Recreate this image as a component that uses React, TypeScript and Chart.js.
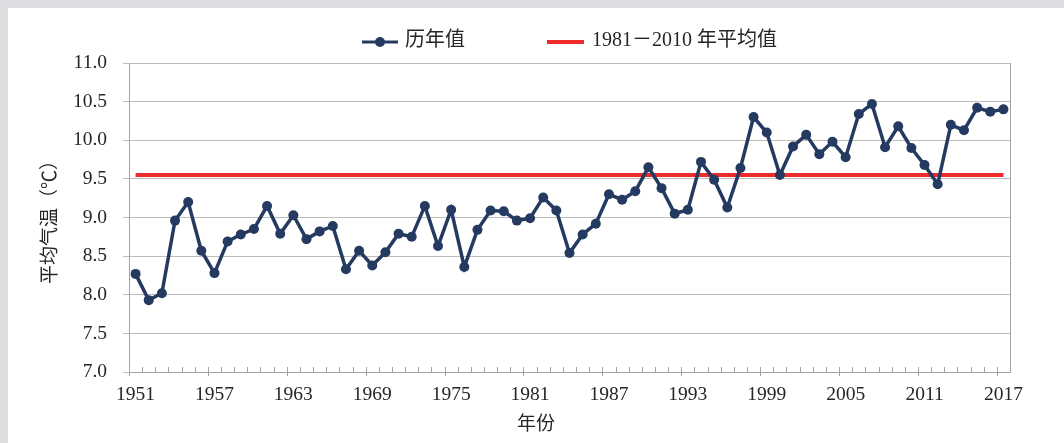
import { useEffect, useRef } from "react";
import { Chart, registerables } from "chart.js";

Chart.register(...registerables);

const years = [
  1951, 1952, 1953, 1954, 1955, 1956, 1957, 1958, 1959, 1960,
  1961, 1962, 1963, 1964, 1965, 1966, 1967, 1968, 1969, 1970,
  1971, 1972, 1973, 1974, 1975, 1976, 1977, 1978, 1979, 1980,
  1981, 1982, 1983, 1984, 1985, 1986, 1987, 1988, 1989, 1990,
  1991, 1992, 1993, 1994, 1995, 1996, 1997, 1998, 1999, 2000,
  2001, 2002, 2003, 2004, 2005, 2006, 2007, 2008, 2009, 2010,
  2011, 2012, 2013, 2014, 2015, 2016, 2017,
];

const annualTemps = [
  8.27, 7.93, 8.02, 8.96, 9.2, 8.57, 8.28, 8.69, 8.78, 8.85,
  9.15, 8.79, 9.03, 8.72, 8.82, 8.89, 8.33, 8.57, 8.38, 8.55,
  8.79, 8.75, 9.15, 8.63, 9.1, 8.36, 8.84, 9.09, 9.08, 8.96,
  8.99, 9.26, 9.09, 8.54, 8.78, 8.92, 9.3, 9.23, 9.34, 9.65,
  9.38, 9.05, 9.1, 9.72, 9.49, 9.13, 9.64, 10.3, 10.1, 9.55,
  9.92, 10.07, 9.82, 9.98, 9.78, 10.34, 10.47, 9.91, 10.18, 9.9,
  9.68, 9.43, 10.2, 10.13, 10.42, 10.37, 10.4,
];

const baselineValue = 9.55;

const seriesLabels = ["历年值", "1981－2010 年平均值"];
const yAxisTitle = "平均气温（℃）";
const xAxisTitle = "年份";
const yMin = 7;
const yMax = 11;
const yStep = 0.5;
const xLabelEvery = 6;

const FONT = '"Liberation Serif", "Times New Roman", "Noto Sans CJK SC", serif';
const NAVY = "#253a60";
const RED = "#ee2b2b";
const GRID = "#bdbdbd";
const AXIS = "#a3a3a3";
const TEXT = "#262626";
const PAGE_GRAY = "#dddee1";

const xTicksPlugin = {
  id: "xTicks",
  afterDraw(chart: any) {
    const { ctx, chartArea, scales } = chart;
    const x = scales.x;
    const n = x.ticks.length;
    ctx.save();
    ctx.strokeStyle = AXIS;
    ctx.lineWidth = 1;
    ctx.beginPath();
    for (let i = 0; i <= n; i++) {
      const px = Math.round(x.getPixelForValue(i - 0.5)) + 0.5;
      const major = i % xLabelEvery === 0;
      ctx.moveTo(px, chartArea.bottom - 5);
      ctx.lineTo(px, chartArea.bottom + (major ? 4 : 0));
    }
    ctx.stroke();
    ctx.restore();
  },
};

const legendPlugin = {
  id: "customLegend",
  afterDraw(chart: any) {
    const { ctx } = chart;
    const ds = chart.data.datasets;
    const cy = 34;
    ctx.save();
    ctx.font = `20px ${FONT}`;
    ctx.fillStyle = TEXT;
    ctx.textBaseline = "middle";
    ctx.textAlign = "left";
    // item 1: line with marker
    ctx.strokeStyle = ds[0].borderColor;
    ctx.lineWidth = 3;
    ctx.beginPath();
    ctx.moveTo(354, cy);
    ctx.lineTo(390, cy);
    ctx.stroke();
    ctx.fillStyle = ds[0].pointBackgroundColor;
    ctx.beginPath();
    ctx.arc(372, cy, 5, 0, Math.PI * 2);
    ctx.fill();
    ctx.fillStyle = TEXT;
    ctx.fillText(ds[0].label, 397, cy - 1);
    // item 2: red line
    ctx.strokeStyle = ds[1].borderColor;
    ctx.lineWidth = 4;
    ctx.beginPath();
    ctx.moveTo(539, cy);
    ctx.lineTo(576, cy);
    ctx.stroke();
    ctx.fillText(ds[1].label, 584, cy - 1);
    ctx.restore();
  },
};

export default function App() {
  const canvasRef = useRef<HTMLCanvasElement | null>(null);

  useEffect(() => {
    const canvas = canvasRef.current;
    if (!canvas) return;
    Chart.defaults.font.family = FONT;
    Chart.defaults.color = TEXT;

    const chart = new Chart(canvas, {
      type: "line",
      data: {
        labels: years.map(String),
        datasets: [
          {
            label: seriesLabels[0],
            data: annualTemps,
            borderColor: NAVY,
            backgroundColor: NAVY,
            pointBackgroundColor: NAVY,
            pointBorderColor: NAVY,
            pointBorderWidth: 0,
            pointRadius: 5,
            borderWidth: 3.5,
            tension: 0,
            yAxisID: "y",
          },
          {
            label: seriesLabels[1],
            data: years.map(() => baselineValue),
            borderColor: RED,
            backgroundColor: RED,
            pointRadius: 0,
            borderWidth: 4,
            tension: 0,
            yAxisID: "y",
          },
        ],
      },
      options: {
        responsive: false,
        animation: false,
        devicePixelRatio: 1,
        layout: { padding: { top: 55, right: 0, left: 0, bottom: 0 } },
        plugins: {
          legend: { display: false },
          tooltip: { enabled: false },
          title: {
            display: true,
            position: "bottom",
            text: xAxisTitle,
            color: TEXT,
            font: { size: 19, weight: "normal", family: FONT },
            padding: { top: 0, bottom: 7 },
          },
        },
        scales: {
          x: {
            type: "category",
            offset: true,
            grid: { display: false, drawTicks: false },
            border: { display: true, color: AXIS, width: 1 },
            ticks: {
              autoSkip: false,
              maxRotation: 0,
              minRotation: 0,
              padding: 11,
              color: TEXT,
              font: { size: 19.5, family: FONT },
              callback: (_v: any, i: number) => (i % xLabelEvery === 0 ? String(years[i]) : ""),
            },
            afterFit: (s: any) => {
              s.height = 41.2;
            },
          },
          y: {
            position: "left",
            min: yMin,
            max: yMax,
            grid: { color: GRID, lineWidth: 1, drawTicks: true, tickLength: 6 },
            border: { display: true, color: AXIS, width: 1 },
            ticks: {
              stepSize: yStep,
              padding: 16,
              color: TEXT,
              font: { size: 19.5, family: FONT },
              callback: (v: any) => Number(v).toFixed(1),
            },
            title: {
              display: true,
              text: yAxisTitle,
              color: TEXT,
              font: { size: 19, family: FONT },
              padding: { top: 32, bottom: 0 },
            },
            afterFit: (s: any) => {
              s.width = 121;
            },
          },
          y2: {
            position: "right",
            display: true,
            grid: { display: false, drawTicks: false },
            border: { display: true, color: AXIS, width: 1 },
            ticks: { display: false },
            afterFit: (s: any) => {
              s.width = 54;
            },
          },
        },
      },
      plugins: [xTicksPlugin, legendPlugin],
    } as any);

    return () => chart.destroy();
  }, []);

  return (
    <div style={{ position: "fixed", inset: 0, background: PAGE_GRAY }}>
      <div
        style={{
          position: "absolute",
          left: 8,
          top: 8,
          right: 0,
          bottom: 0,
          background: "#ffffff",
        }}
      >
        <canvas ref={canvasRef} width={1056} height={435} style={{ display: "block", width: 1056, height: 435 }} />
      </div>
    </div>
  );
}
